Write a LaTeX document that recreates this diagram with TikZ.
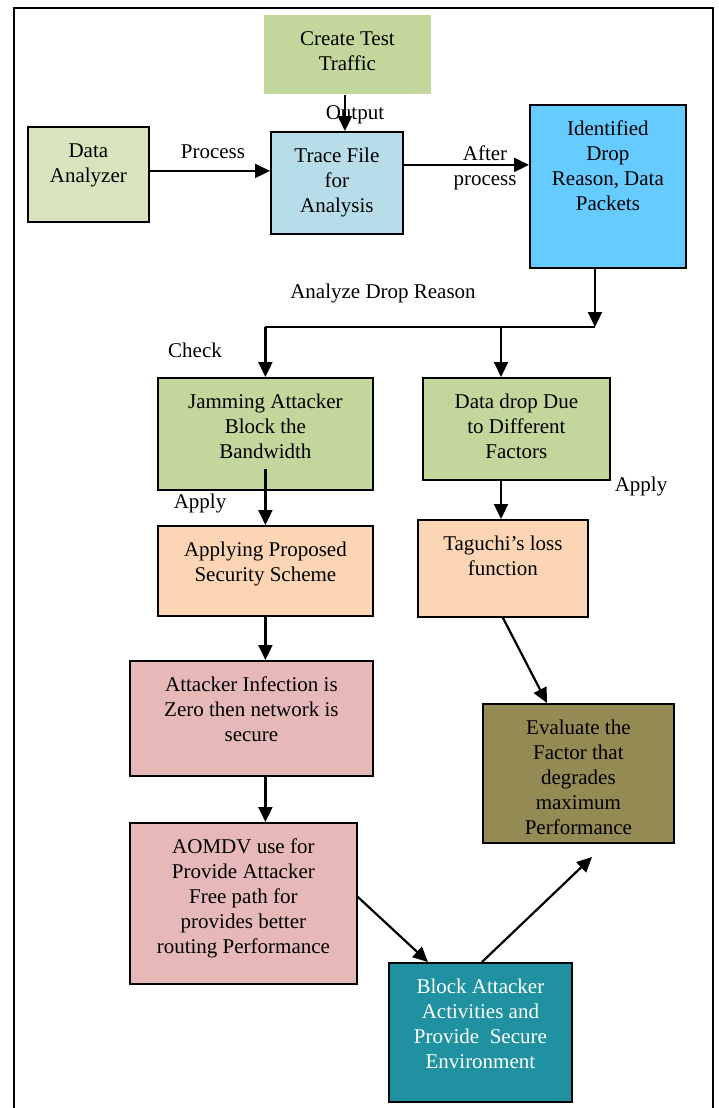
\documentclass[tikz,border=0pt]{standalone}
\usepackage{fontspec}
\setmainfont{Liberation Serif}
\usetikzlibrary{arrows.meta}
\definecolor{cgreen}{HTML}{C3D69B}
\definecolor{cpale}{HTML}{D7E4BD}
\definecolor{cblue}{HTML}{B7DEE8}
\definecolor{csky}{HTML}{66CCFF}
\definecolor{cpeach}{HTML}{FCD5B5}
\definecolor{cpink}{HTML}{E6B9B8}
\definecolor{cteal}{HTML}{1F91A0}
\definecolor{colive}{HTML}{948A54}
\newcommand{\tbx}[3]{\parbox[c][#2][t]{#1}{\centering\rule{0pt}{31pt}#3}}
\begin{document}
\begin{tikzpicture}[x=1pt,y=-1pt,
  font=\fontsize{21}{24.8}\selectfont,
  box/.style={draw=black, line width=1.8pt, inner sep=0pt, anchor=north west},
  arr/.style={line width=2.2pt, -{Triangle[length=15pt,width=14pt]}},
  ln/.style={line width=2.2pt},
  lbl/.style={inner sep=0pt, align=center}]
\useasboundingbox (0,0) rectangle (718,1108);
\draw[line width=2.2pt] (14,1108) -- (14,8) -- (713,8) -- (713,1108);

% boxes
\node[box, draw=none, fill=cgreen] (ct) at (263,14) {\tbx{167pt}{79pt}{Create Test\\Traffic}};
\node[box, fill=cpale] (da) at (27,126) {\tbx{121pt}{95pt}{Data\\Analyzer}};
\node[box, fill=cblue] (tf) at (270,131) {\tbx{132pt}{102pt}{Trace File\\for\\Analysis}};
\node[box, fill=csky] (id) at (529,104) {\tbx{156pt}{163pt}{Identified\\Drop\\Reason, Data\\Packets}};
\node[box, fill=cgreen] (jam) at (157,377) {\tbx{215pt}{112pt}{Jamming Attacker\\Block the\\Bandwidth}};
\node[box, fill=cgreen] (dd) at (422,377) {\tbx{187pt}{102pt}{Data drop Due\\to Different\\Factors}};
\node[box, fill=cpeach] (ap) at (157,525) {\tbx{215pt}{90pt}{Applying Proposed\\Security Scheme}};
\node[box, fill=cpeach] (tg) at (417,519) {\tbx{170pt}{97pt}{Taguchi’s loss\\function}};
\node[box, fill=cpink] (ai) at (129,660) {\tbx{243pt}{115pt}{Attacker Infection is\\Zero then network is\\secure}};
\node[box, fill=cpink] (ao) at (129,822) {\tbx{227pt}{161pt}{AOMDV use for\\Provide Attacker\\Free path for\\provides better\\routing Performance}};
\node[box, fill=cteal, text=white] (bl) at (388,962) {\tbx{183pt}{139pt}{Block Attacker\\Activities and\\Provide~ Secure\\Environment}};
\node[box, fill=colive] (ev) at (482,703) {\tbx{191pt}{139pt}{Evaluate the\\Factor that\\degrades\\maximum\\Performance}};

% labels
\node[lbl] (lout) at (355,115) {Output};
\node[lbl] (lproc) at (213,152) {Process};
\node[lbl] (lafter) at (485,167.5) {After\\process};
\node[lbl] (lana) at (383,293) {Analyze Drop Reason};
\node[lbl] (lchk) at (195,350) {Check};
\node[lbl] (lap1) at (200,503) {Apply};
\node[lbl] (lap2) at (641,486) {Apply};

% connectors
\coordinate (sp) at (595,327);
\coordinate (sj) at (sp -| jam.north);
\coordinate (sd) at (501,327);
\coordinate (fe) at (592,857);

\draw[arr] ([xshift=-2.5pt]ct.south) -- ([xshift=-2.5pt]ct.south |- tf.north);
\draw[arr] ([yshift=3.5pt]da.east) -- ([yshift=3.5pt]da.east -| tf.west);
\draw[arr] ([yshift=18pt]tf.east) -- ([yshift=18pt]tf.east -| id.west);
\draw[arr] (id.south -| sp) -- (sp);
\draw[ln] (sp) -- (sj);
\draw[arr] (sj) -- (jam.north);
\draw[arr] (sd) -- (sd |- dd.north);
\draw[arr] ([yshift=22pt]jam.south) -- (ap.north);
\draw[arr] (sd |- dd.south) -- (sd |- tg.north);
\draw[arr] (ap.south) -- (ap.south |- ai.north);
\draw[arr] (ap.south |- ai.south) -- (ap.south |- ao.north);
\draw[arr] ([yshift=6.5pt]ao.east) -- ([xshift=40pt]bl.north west);
\draw[arr] ([xshift=94pt]bl.north west) -- (fe);
\draw[arr] (tg.south) -- ([xshift=65pt]ev.north west);
\end{tikzpicture}
\end{document}
